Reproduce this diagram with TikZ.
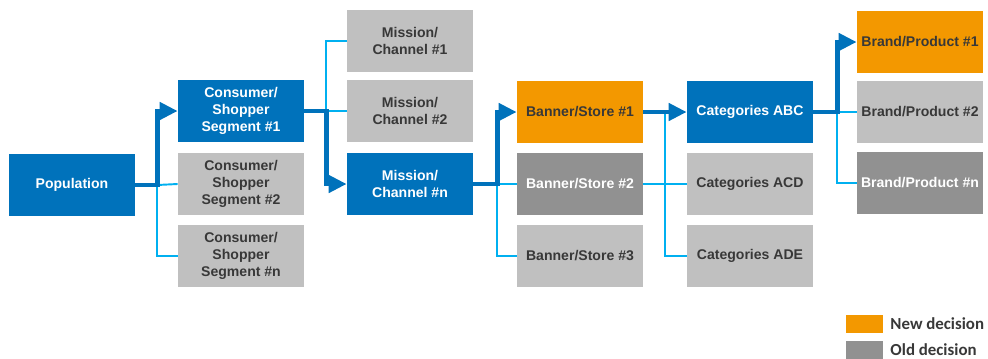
\documentclass[tikz,border=0pt]{standalone}
\usepackage{fontspec}
\setmainfont{Liberation Sans}
\newfontfamily\legendfont{Carlito}
\usetikzlibrary{calc,arrows.meta,positioning}
\definecolor{darkblue}{RGB}{0,114,187}
\definecolor{lightblue}{RGB}{0,176,240}
\definecolor{lightgrey}{RGB}{192,192,192}
\definecolor{darkgrey}{RGB}{145,145,145}
\definecolor{decorange}{RGB}{243,152,0}
\definecolor{greytext}{RGB}{56,56,56}
\tikzset{thinline/.style={lightblue,line width=1.1pt},thickline/.style={darkblue,line width=2.8pt,-{Triangle[length=3.6mm,width=3.4mm]}}}

\begin{document}
\begin{tikzpicture}[x=0.2mm,y=-0.2mm,font=\bfseries\fontsize{8}{9.7}\selectfont]

\tikzset{box/.style={minimum width=2.52cm,minimum height=1.24cm,inner sep=1pt,align=center},
bluenode/.style={box,fill=darkblue,text=white},
greynode/.style={box,fill=lightgrey,text=greytext},
darkgreynode/.style={box,fill=darkgrey,text=white},
orangenode/.style={box,fill=decorange,text=greytext},
legendbox/.style={minimum width=0.74cm,minimum height=0.36cm,inner sep=0pt},
legendtext/.style={font=\legendfont\bfseries\fontsize{9.6}{12}\selectfont,text=greytext,inner sep=1pt,anchor=west}}

% Frame
\useasboundingbox (0,0) rectangle (988,358);

% Population and segments
\node[bluenode] (pop) at (72,185) {Population};
\node[bluenode] (c1) at (241,111) {Consumer/\\Shopper\\Segment \#1};
\node[greynode] (c2) at (241,184) {Consumer/\\Shopper\\Segment \#2};
\node[greynode] (cn) at (241,256) {Consumer/\\Shopper\\Segment \#n};

% Missions
\node[greynode] (m1) at (410,41) {Mission/\\Channel \#1};
\node[greynode] (m2) at (410,111) {Mission/\\Channel \#2};
\node[bluenode] (mn) at (410,184) {Mission/\\Channel \#n};

% Banners
\node[orangenode] (b1) at (580,112) {Banner/Store \#1};
\node[darkgreynode] (b2) at (580,184) {Banner/Store \#2};
\node[greynode] (b3) at (580,256) {Banner/Store \#3};

% Categories
\node[bluenode] (k1) at (750,112) {Categories ABC};
\node[greynode] (k2) at (750,184) {Categories ACD};
\node[greynode] (k3) at (750,256) {Categories ADE};

% Brands
\node[orangenode] (p1) at (920,42) {Brand/Product \#1};
\node[greynode] (p2) at (920,112) {Brand/Product \#2};
\node[darkgreynode] (pn) at (920,183) {Brand/Product \#n};

% Junctions
\coordinate (j1) at ($(pop.east)+(22,0)$);
\coordinate (j2) at ($(c1.east)+(22,0)$);
\coordinate (j3) at ($(mn.east)+(24,0)$);
\coordinate (j4) at ($0.5*(b1.east)+0.5*(k1.west)$);
\coordinate (j5) at ($(k1.east)+(24,0)$);

% Other options
\draw[thinline] (j1 |- c1.west) -- (j1 |- cn.west) -- (cn.west); \draw[thinline] (j1) -- (c2.west);
\draw[thinline] (m1.west) -| (j2); \draw[thinline] (c1.east) -- (m2.west);
\draw[thinline] (mn.east) -- (b2.west); \draw[thinline] (j3) |- (b3.west);
\draw[thinline] (b2.east) -- (k2.west); \draw[thinline] (j4) -- (j4 |- k3.west) -- (k3.west);
\draw[thinline] (k1.east) -- (p2.west); \draw[thinline] (j5) |- (pn.west);

% Chosen path
\draw[thickline] (pop.east) -- (j1) |- (c1.west);
\draw[thickline] (c1.east) -- (j2) |- (mn.west);
\draw[thickline] (mn.east) -- (j3) |- (b1.west);
\draw[thickline] (b1.east) -- (k1.west);
\draw[thickline] (k1.east) -- (j5) |- (p1.west);

% Legend
\node[legendbox,fill=decorange] (newkey) at (864.5,324) {};
\node[legendbox,fill=darkgrey] (oldkey) at (864.5,350) {};
\node[legendtext,right=1mm of newkey] (newlabel) {New decision};
\node[legendtext,right=1mm of oldkey] (oldlabel) {Old decision};

\end{tikzpicture}
\end{document}
